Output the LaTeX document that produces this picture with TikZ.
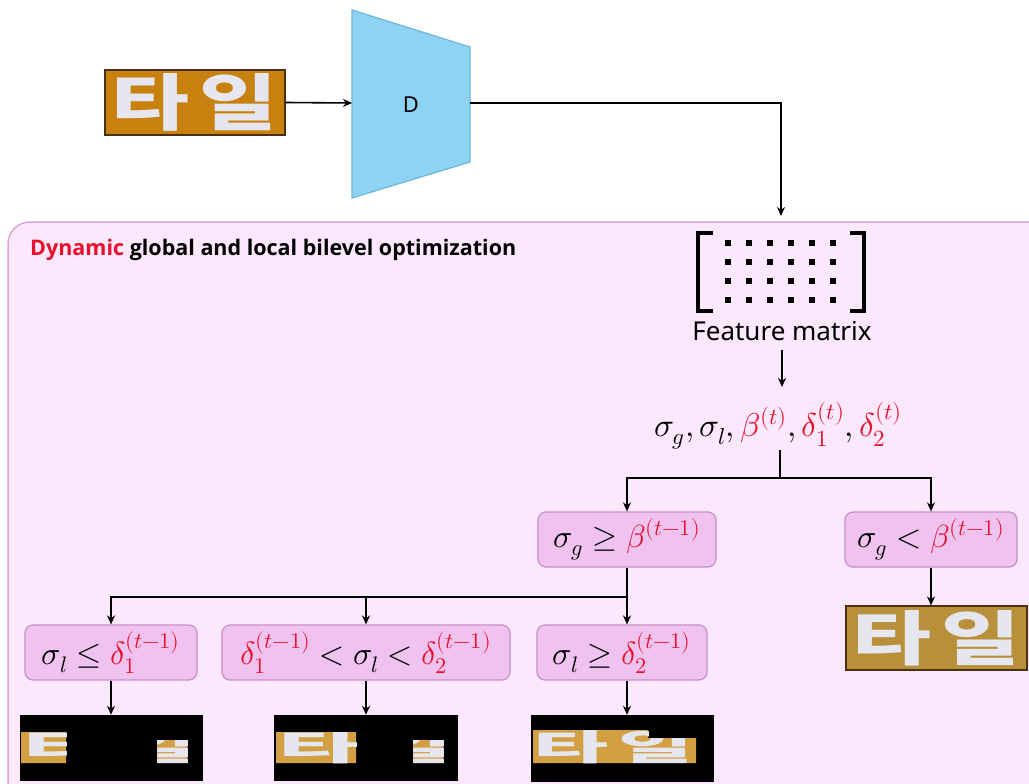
\documentclass[tikz,border=0pt]{standalone}
\usepackage{fontspec}
\usepackage{unicode-math}
\setmathfont{Latin Modern Math}
\usepackage{graphicx}
\usetikzlibrary{arrows.meta}
\newfontfamily\kr{Noto Sans CJK KR}
\newfontfamily\uifont{Noto Sans}
\newfontfamily\titlefont{Open Sans}
\definecolor{tileAfill}{HTML}{C8800E}
\definecolor{tileAdraw}{HTML}{4A3010}
\definecolor{tileBfill}{HTML}{B8903C}
\definecolor{tanc}{HTML}{D2A042}
\definecolor{glyph}{HTML}{E6E6EE}
\definecolor{trapfill}{HTML}{8FD3F2}
\definecolor{trapdraw}{HTML}{6CB6DE}
\definecolor{panelfill}{HTML}{FCE8FC}
\definecolor{paneldraw}{HTML}{D8A8D8}
\definecolor{boxfill}{HTML}{F0C2F0}
\definecolor{boxdraw}{HTML}{C490C8}
\definecolor{dynred}{HTML}{E8102A}
\newcommand{\tiletext}[2]{\resizebox{#1}{#2}{\kr\bfseries 타\hspace{0.12em}일}}
\newcommand{\rr}[1]{\textcolor{dynred}{#1}}
\begin{document}
\begin{tikzpicture}[x=1pt,y=-1pt,
  >={Stealth[length=9pt,width=8pt]},
  conn/.style={draw=black, line width=1.6pt},
  condbox/.style={draw=boxdraw, fill=boxfill, line width=1.2pt, rounded corners=8pt,
     minimum height=55pt, inner sep=0pt, font=\fontsize{32}{34}\selectfont},
  blackimg/.style={fill=black, draw=black, minimum height=65pt, inner sep=0pt},
  lbl/.style={font=\uifont\fontsize{26}{29}\selectfont}]
\useasboundingbox (0,0) rectangle (1029,784);
\clip (0,0) rectangle (1029,784);
\fill[white] (0,0) rectangle (1029,784);

% panel
\draw[draw=paneldraw, fill=panelfill, line width=1.5pt, rounded corners=22pt] (8,222) rectangle (1060,820);
\node[anchor=west, font=\titlefont\bfseries\fontsize{21.5}{24}\selectfont, inner sep=0pt] (title) at (30,250)
  {\textcolor{dynred}{Dynamic} global and local bilevel optimization};

% input tile
\node[fill=tileAfill, draw=tileAdraw, line width=1.2pt, minimum width=180pt, minimum height=65pt,
  inner sep=0pt, text=glyph] (tileA) at (195,102.5) {\tiletext{166pt}{52pt}};

% decoder trapezoid
\filldraw[fill=trapfill, draw=trapdraw, line width=1.2pt] (352,10) -- (470,47) -- (470,162) -- (352,198) -- cycle;
\coordinate (Din) at (352,103);
\coordinate (Dout) at (470,103);
\node[font=\uifont\fontsize{22}{24}\selectfont] (D) at (411,105) {D};

\draw[conn,->] (tileA.east) -- (Din);
\coordinate (fmin) at (781,216);
\draw[conn,->] (Dout) -| (fmin);

% feature matrix
\node[minimum width=170pt, minimum height=80pt, inner sep=0pt] (fm) at (781,272) {};
\draw[line width=4.5pt] (713,233) -- (698,233) -- (698,311) -- (713,311);
\draw[line width=4.5pt] (850,233) -- (864,233) -- (864,311) -- (850,311);
\foreach \xx in {728,749,770,791,812,833}
  \foreach \yy in {243,262,281,300}
    \fill (\xx-2.7,\yy-2.7) rectangle (\xx+2.7,\yy+2.7);
\node[lbl, inner sep=0pt] (fmlabel) at (782,331) {Feature matrix};

% parameters
\node[font=\fontsize{33}{35}\selectfont, inner sep=0pt] (sig) at (778,426)
  {$\sigma_g,\sigma_l,\rr{\beta^{(t)}},\rr{\delta_1^{(t)}},\rr{\delta_2^{(t)}}$};
\draw[conn,->] (782,350) -- (782,387);

% global branches
\node[condbox, minimum width=178pt] (g1) at (627,539.5) {$\sigma_g\geq\rr{\beta^{(t-1)}}$};
\node[condbox, minimum width=172pt] (g2) at (931,539.5) {$\sigma_g<\rr{\beta^{(t-1)}}$};
\coordinate (b1) at (780,478);
\draw[conn] (780,450) -- (b1);
\draw[conn,->] (b1) -| (g1.north);
\draw[conn,->] (b1) -| (g2.north);

% tile B
\node[fill=tileBfill, draw=tileAdraw, line width=1.2pt, minimum width=181pt, minimum height=64pt,
  inner sep=0pt, text=glyph] (tileB) at (936.5,638) {\tiletext{168pt}{50pt}};
\draw[conn,->] (g2.south) -- (g2.south |- tileB.north);

% local branches
\node[condbox, minimum width=172pt] (l1) at (111,652.5) {$\sigma_l\leq\rr{\delta_1^{(t-1)}}$};
\node[condbox, minimum width=288pt] (l2) at (366,652.5) {$\rr{\delta_1^{(t-1)}}<\sigma_l<\rr{\delta_2^{(t-1)}}$};
\node[condbox, minimum width=170pt] (l3) at (622,652.5) {$\sigma_l\geq\rr{\delta_2^{(t-1)}}$};
\coordinate (b2) at (627,597);
\draw[conn] (g1.south) -- (b2);
\draw[conn,->] (b2) -| (l1.north);
\draw[conn,->] (b2) -| (l2.north);
\draw[conn,->] (b2) -- (b2 |- l3.north);

% output images
\node[blackimg, minimum width=182pt] (img1) at (111,747.5) {};
\node[blackimg, minimum width=183pt] (img2) at (366,747.5) {};
\node[blackimg, minimum width=182pt, minimum height=66pt] (img3) at (622,748) {};
\draw[conn,->] (l1.south) -- (img1.north);
\draw[conn,->] (l2.south) -- (img2.north);
\draw[conn,->] (b2 |- l3.south) -- (b2 |- img3.north);

\begin{scope}
  \clip (21,732) rectangle (66,763) (157,740) rectangle (187,763);
  \fill[tanc] (20,730) rectangle (202,765);
  \node[text=glyph, inner sep=0pt] at (111,747.5) {\tiletext{175pt}{30pt}};
\end{scope}
\begin{scope}
  \clip (276,732) rectangle (356,763) (413,740) rectangle (443,763);
  \fill[tanc] (275,730) rectangle (458,765);
  \node[text=glyph, inner sep=0pt] at (366,747.5) {\tiletext{175pt}{30pt}};
\end{scope}
\begin{scope}
  \clip (533,730) -- (648,730) -- (648,738) -- (696,738) -- (696,763) -- (533,763) -- cycle;
  \fill[tanc] (531,728) rectangle (713,765);
  \node[text=glyph, inner sep=0pt] at (614,747) {\tiletext{160pt}{30pt}};
\end{scope}
\end{tikzpicture}
\end{document}
